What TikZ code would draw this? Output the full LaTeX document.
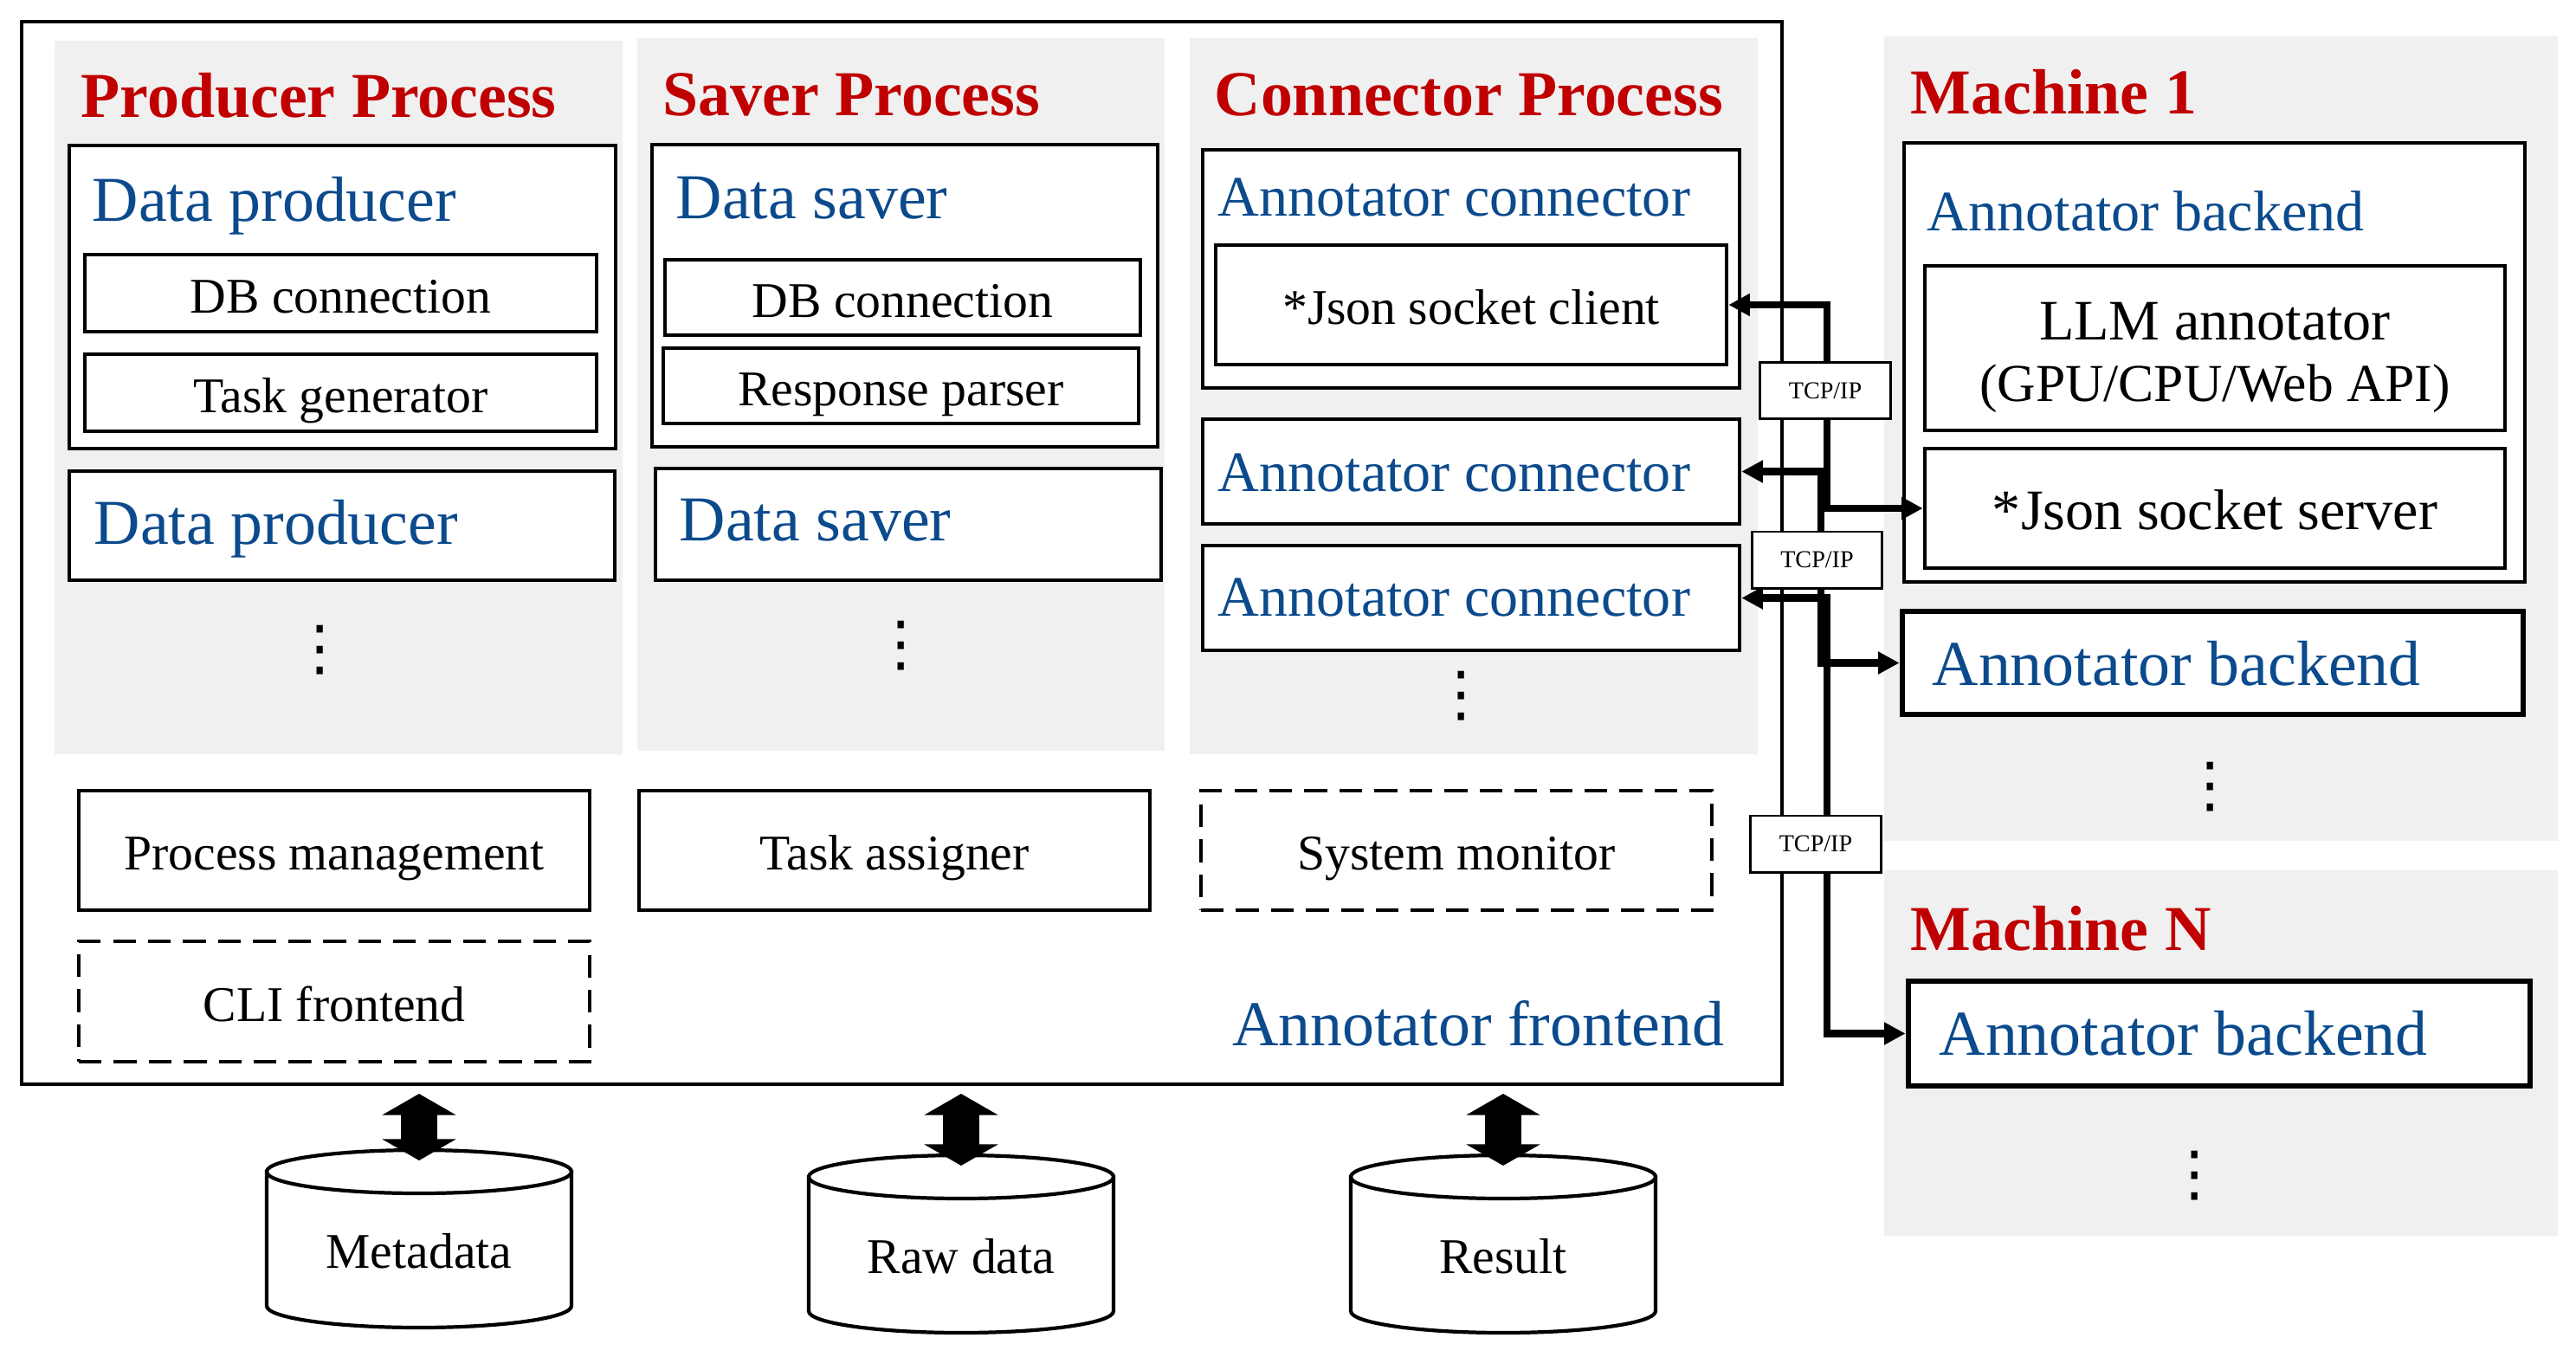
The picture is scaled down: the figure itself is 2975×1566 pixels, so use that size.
\documentclass[tikz,border=0pt]{standalone}
\usepackage{fontspec}
\setmainfont{Liberation Serif}
\newfontfamily\dotfont{DejaVu Sans}
\usetikzlibrary{arrows.meta}
\definecolor{procred}{HTML}{C00000}
\definecolor{compblue}{HTML}{0B4A8C}
\definecolor{panelgray}{HTML}{F0F0F0}
\newcommand{\ttlsz}{\fontsize{21}{25}\selectfont}
\newcommand{\lblsz}{\fontsize{21}{25}\selectfont}
\newcommand{\midsz}{\fontsize{18.8}{20.5}\selectfont}
\newcommand{\txtsz}{\fontsize{16.4}{20}\selectfont}

\begin{document}
\begin{tikzpicture}[x=0.01cm,y=0.01cm,
  panel/.style={fill=panelgray},
  box/.style={draw,line width=1.2pt,fill=white,inner sep=0pt,font=\txtsz,text height=12.8pt,text depth=0pt},
  tbox/.style={box,line width=1.8pt},
  dbox/.style={box,dash pattern=on 7.5pt off 4pt},
  ttl/.style={anchor=base west,inner sep=0pt,text=procred,font=\ttlsz\bfseries},
  lbl/.style={anchor=base west,inner sep=0pt,text=compblue,font=\lblsz},
  tcp/.style={draw,line width=0.85pt,fill=white,inner sep=0pt,font=\fontsize{8}{9}\selectfont,minimum width=1.5cm,minimum height=0.65cm},
  link/.style={line width=2.3pt,{Triangle[length=7pt,width=7pt]}-{Triangle[length=7pt,width=7pt]}},
  dbl/.style={line width=12pt,{Triangle[length=7pt,width=24pt]}-{Triangle[length=7pt,width=24pt]}},
  cyl/.style={line width=1.2pt,fill=white},
  dots/.style={inner sep=0pt,font=\dotfont\fontsize{20}{22}\selectfont}]
  \useasboundingbox (0,0) rectangle (2975,-1566);

  % process panels
  \fill[panel] (63,-47) rectangle (719,-871);
  \fill[panel] (736,-44) rectangle (1345,-867);
  \fill[panel] (1374,-44) rectangle (2030,-871);
  \fill[panel] (2176,-42) rectangle (2954,-971);
  \fill[panel] (2176,-1005) rectangle (2954,-1427);

  % annotator frontend frame
  \draw[line width=1.2pt] (25,-25) rectangle (2058,-1252);

  \node[ttl] (prodttl) at (93,-135) {Producer Process};
  \node[ttl] (savettl) at (765,-133) {Saver Process};
  \node[ttl] (connttl) at (1402,-133) {Connector Process};
  \node[ttl] (m1ttl) at (2206,-131) {Machine 1};
  \node[ttl] (mnttl) at (2206,-1097) {Machine N};

  % producer
  \node[box,minimum width=6.31cm,minimum height=3.5cm] (dprod1) at (395.5,-343) {};
  \node[lbl] (dprod1lbl) at (106,-255) {Data producer};
  \node[box,minimum width=5.91cm,minimum height=0.89cm] (dbconn1) at (393.5,-338.5) {DB connection};
  \node[box,minimum width=5.91cm,minimum height=0.89cm] (taskgen) at (393.5,-453.5) {Task generator};
  \node[box,minimum width=6.3cm,minimum height=1.26cm] (dprod2) at (395,-607) {};
  \node[lbl] (dprod2lbl) at (108,-628) {Data producer};
  \node[dots] (proddots) at (370,-751) {⋮};

  % saver
  \node[box,minimum width=5.84cm,minimum height=3.49cm] (dsave1) at (1045,-341.5) {};
  \node[lbl] (dsave1lbl) at (780,-252) {Data saver};
  \node[box,minimum width=5.49cm,minimum height=0.87cm] (dbconn2) at (1042.5,-343.5) {DB connection};
  \node[box,minimum width=5.49cm,minimum height=0.87cm] (respparse) at (1040.5,-445.5) {Response parser};
  \node[box,minimum width=5.84cm,minimum height=1.29cm] (dsave2) at (1049,-605.5) {};
  \node[lbl] (dsave2lbl) at (784,-624) {Data saver};
  \node[dots] (savedots) at (1041,-746) {⋮};

  % connector
  \node[box,minimum width=6.2cm,minimum height=2.75cm] (aconn1) at (1699,-310.5) {};
  \node[lbl,font=\midsz] (aconn1lbl) at (1406,-249) {Annotator connector};
  \node[box,minimum width=5.9cm,minimum height=1.38cm] (jclient) at (1699,-352) {*Json socket client};
  \node[box,minimum width=6.2cm,minimum height=1.21cm] (aconn2) at (1699,-544.5) {};
  \node[lbl,font=\midsz] (aconn2lbl) at (1406,-567) {Annotator connector};
  \node[box,minimum width=6.2cm,minimum height=1.21cm] (aconn3) at (1699,-690.5) {};
  \node[lbl,font=\midsz] (aconn3lbl) at (1406,-711) {Annotator connector};
  \node[dots] (conndots) at (1688,-804) {⋮};

  % frontend services
  \node[box,minimum width=5.9cm,minimum height=1.38cm] (procmgmt) at (386,-982) {Process management};
  \node[box,minimum width=5.9cm,minimum height=1.38cm] (taskasg) at (1033,-982) {Task assigner};
  \node[dbox,minimum width=5.9cm,minimum height=1.38cm] (sysmon) at (1682,-982) {System monitor};
  \node[dbox,minimum width=5.9cm,minimum height=1.39cm] (cli) at (386,-1156.5) {CLI frontend};
  \node[lbl,anchor=base east] (felbl) at (1992,-1207) {Annotator frontend};

  % machine 1
  \node[box,minimum width=7.17cm,minimum height=5.07cm] (aback1) at (2557.5,-418.5) {};
  \node[lbl,font=\midsz] (aback1lbl) at (2225,-266) {Annotator backend};
  \node[box,minimum width=6.7cm,minimum height=1.9cm] (llm) at (2558,-402) {};
  \node[anchor=base,inner sep=0pt,font=\midsz] (llmtxt) at (2558,-392) {LLM annotator};
  \node[anchor=base,inner sep=0pt,font=\fontsize{17.5}{20}\selectfont] (llmdev) at (2558,-463) {(GPU/CPU/Web API)};
  \node[box,minimum width=6.7cm,minimum height=1.38cm,font=\midsz,text height=14.2pt] (jserver) at (2558,-587) {*Json socket server};
  \node[tbox,minimum width=7.17cm,minimum height=1.19cm] (aback2) at (2555.5,-765.5) {};
  \node[lbl] (aback2lbl) at (2231,-791) {Annotator backend};
  \node[dots] (m1dots) at (2553,-909) {⋮};

  % machine N
  \node[tbox,minimum width=7.18cm,minimum height=1.21cm] (abackn) at (2563,-1193.5) {};
  \node[lbl] (abacknlbl) at (2239,-1218) {Annotator backend};
  \node[dots] (mndots) at (2535,-1358) {⋮};

  % network links
  \coordinate (busa) at (2110,0);
  \coordinate (busb) at (2103,0);
  \draw[link] (jclient.east) -| (busa |- jserver.west) -- (jserver.west);
  \draw[link] (aconn2.east) -| (busb |- aback2.west) -- (aback2.west);
  \draw[link] (aconn3.east) -| (busa |- abackn.west) -- (abackn.west);
  \node[tcp] (tcp1) at (2108,-451) {TCP/IP};
  \node[tcp] (tcp2) at (2098.5,-646.5) {TCP/IP};
  \node[tcp] (tcp3) at (2097,-974.5) {TCP/IP};

  % databases
  \foreach \cx/\cy/\nm/\txt in {484/1353/metadata/Metadata,1110/1359/rawdata/Raw data,1736/1359/result/Result} {
    \draw[cyl] (\cx-176,-\cy) -- (\cx-176,-\cy-155) arc[start angle=180,end angle=360,x radius=176,y radius=25] -- (\cx+176,-\cy) -- cycle;
    \draw[cyl] (\cx,-\cy) ellipse [x radius=176,y radius=25];
    \node[font=\txtsz] (\nm) at (\cx,-\cy-92) {\txt};
    \coordinate (\nm-up) at (\cx,-1263);
    \coordinate (\nm-dn) at (\cx,-\cy+13);
    \draw[dbl] (\nm-up) -- (\nm-dn);
  }
\end{tikzpicture}
\end{document}
